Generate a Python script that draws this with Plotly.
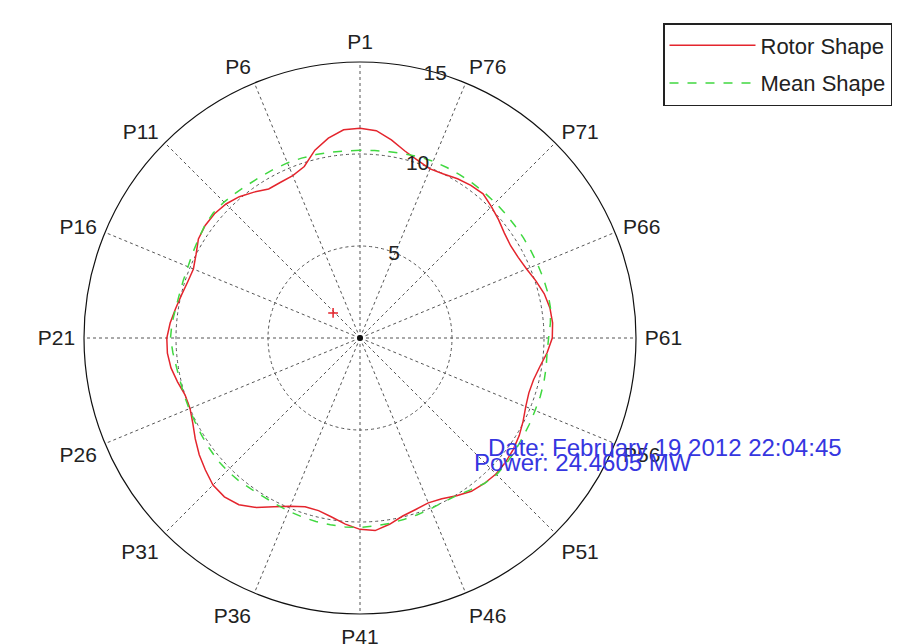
import plotly.graph_objects as go

# ---- data ----
n_points = 80
point_angles = [i * 4.5 for i in range(n_points)]  # P1..P80, counter-clockwise from top

rotor_shape = [
    11.4, 11.35, 11.0, 10.5, 9.8, 9.55, 9.5, 9.5, 9.8, 10.1,
    10.3, 10.4, 10.4, 10.3, 10.0, 9.8, 9.85, 9.98, 10.15, 10.35,
    10.5, 10.5, 10.4, 10.2, 10.0, 10.0, 10.2, 10.5, 10.8, 11.05,
    11.3, 11.35, 11.2, 10.8, 10.3, 9.9, 9.65, 9.65, 9.85, 10.15,
    10.4, 10.5, 10.25, 9.95, 9.8, 9.7, 9.8, 10.05, 10.3, 10.4,
    10.45, 10.4, 10.3, 10.15, 9.95, 9.75, 9.65, 9.7, 9.9, 10.2,
    10.45, 10.5, 10.45, 10.3, 10.05, 9.8, 9.65, 9.6, 9.7, 9.9,
    10.1, 10.3, 10.25, 10.15, 10.0, 9.95, 10.15, 10.45, 10.9, 11.3,
]

mean_shape = [
    10.2, 10.2, 10.22, 10.25, 10.28, 10.3, 10.3, 10.3, 10.32, 10.38,
    10.45, 10.48, 10.42, 10.3, 10.2, 10.12, 10.1, 10.1, 10.15, 10.25,
    10.3, 10.2, 10.1, 10.05, 10.05, 10.05, 10.06, 10.1, 10.15, 10.2,
    10.2, 10.18, 10.12, 10.1, 10.12, 10.18, 10.22, 10.26, 10.28, 10.3,
    10.3, 10.25, 10.2, 10.15, 10.1, 10.05, 10.0, 10.05, 10.2, 10.4,
    10.5, 10.48, 10.42, 10.36, 10.33, 10.3, 10.3, 10.28, 10.24, 10.2,
    10.25, 10.38, 10.48, 10.5, 10.48, 10.45, 10.43, 10.42, 10.4, 10.4,
    10.4, 10.4, 10.4, 10.4, 10.4, 10.4, 10.35, 10.3, 10.25, 10.22,
]

offset_r = [2.0]
offset_theta = [47]
center_r = [0]
center_theta = [0]

tick_angles = [j * 22.5 for j in range(16)]
tick_labels = ["P%d" % (5 * j + 1) for j in range(16)]
radial_ticks = [5, 10, 15]

date_text = "Date: February 19 2012 22:04:45"
power_text = "Power: 24.4605 MW"

# ---- figure ----
W, H = 901, 644
theta_closed = point_angles + [point_angles[0]]
rotor_closed = rotor_shape + [rotor_shape[0]]
mean_closed = mean_shape + [mean_shape[0]]

fig = go.Figure()
fig.add_trace(go.Scatterpolar(
    r=rotor_closed, theta=theta_closed, mode="lines", name="Rotor Shape",
    line=dict(color="#e4252d", width=1.5), legendgroup="a"))
fig.add_trace(go.Scatterpolar(
    r=mean_closed, theta=theta_closed, mode="lines", name="Mean Shape",
    line=dict(color="#40d840", width=1.5, dash="dash"), legendgroup="b"))
fig.add_trace(go.Scatterpolar(
    r=offset_r, theta=offset_theta, mode="markers", showlegend=False,
    marker=dict(symbol="cross-thin", size=7, line=dict(color="#e4252d", width=1.5))))
fig.add_trace(go.Scatterpolar(
    r=center_r, theta=center_theta, mode="markers", showlegend=False,
    marker=dict(symbol="circle", size=6, color="#111111")))

radial_angle = 79

fig.update_layout(
    width=W, height=H,
    margin=dict(l=0, r=0, t=0, b=0, autoexpand=False),
    paper_bgcolor="white",
    font=dict(family="Liberation Sans, Arial, sans-serif", size=21, color="#222222"),
    polar=dict(
        domain=dict(x=[84 / W, 636 / W], y=[1 - 616 / H, 1 - 60 / H]),
        bgcolor="white",
        angularaxis=dict(
            direction="counterclockwise", rotation=90,
            tickmode="array", tickvals=tick_angles, ticktext=tick_labels,
            showline=True, linecolor="#111111", linewidth=1.2,
            showgrid=True, gridcolor="#555555", gridwidth=1, griddash="dot",
            ticks="outside", ticklen=4, tickcolor="rgba(0,0,0,0)",
            tickfont=dict(size=21, color="#222222"),
        ),
        radialaxis=dict(
            range=[0, 15], tickmode="array", tickvals=radial_ticks,
            showline=False, ticks="", angle=radial_angle, tickangle=radial_angle,
            showgrid=True, gridcolor="#555555", gridwidth=1, griddash="dot",
            tickfont=dict(size=21, color="#222222"),
        ),
    ),
    legend=dict(
        x=663 / W, y=1 - 23 / H, xanchor="left", yanchor="top",
        bgcolor="white", bordercolor="#222222", borderwidth=1.5,
        font=dict(size=22, color="#222222"),
        tracegroupgap=6, itemwidth=86,
    ),
    annotations=[
        dict(text=date_text, x=486 / W, y=1 - 447 / H, xref="paper", yref="paper",
             xanchor="left", yanchor="middle", showarrow=False,
             font=dict(size=24, color="#3636e0")),
        dict(text=power_text, x=472 / W, y=1 - 462 / H, xref="paper", yref="paper",
             xanchor="left", yanchor="middle", showarrow=False,
             font=dict(size=24, color="#3636e0")),
    ],
)

fig.write_html("out.html", config={"displayModeBar": False},
               post_script="document.body.style.margin='0';")
